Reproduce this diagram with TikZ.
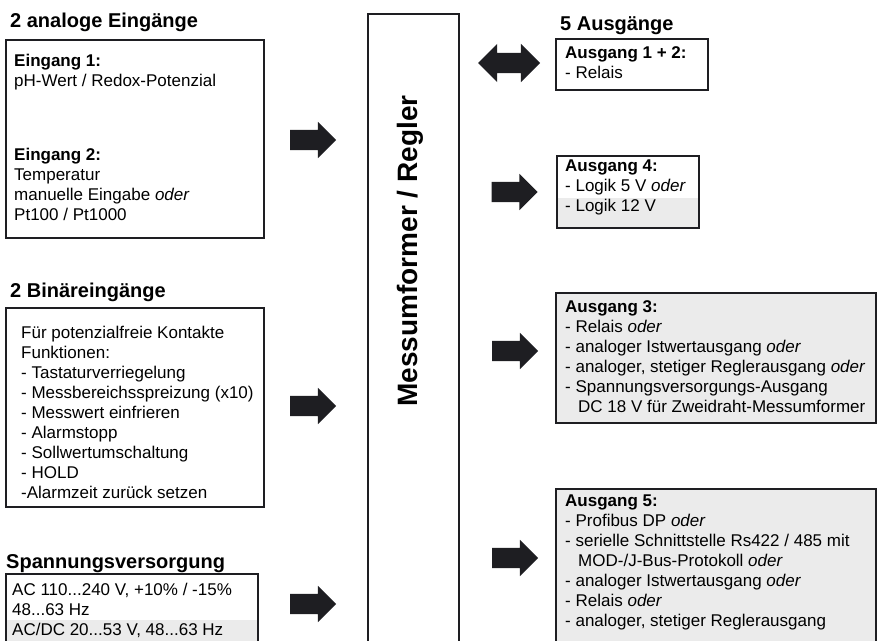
\documentclass[tikz,border=0pt]{standalone}
\usepackage{fontspec}
\setmainfont{Liberation Sans}
\usepackage{tikz}
\usetikzlibrary{positioning, shapes.arrows, backgrounds, calc}
\definecolor{bandgray}{gray}{0.92}
\definecolor{inkdark}{HTML}{1E1E22}

\begin{document}
\begin{tikzpicture}[x=1pt, y=-1pt,
  bx/.style={draw=inkdark, line width=2.2pt, anchor=north west, inner sep=0},
  hd/.style={anchor=base west, inner sep=0, font=\fontsize{20}{24}\selectfont\bfseries},
  tx/.style={anchor=north west, inner sep=0, align=left, font=\fontsize{17}{20}\selectfont},
  sarr/.style={single arrow, fill=inkdark, inner sep=0, text height=20pt, text depth=0pt,
               minimum height=46pt, minimum width=36pt, single arrow head extend=8pt},
  darr/.style={double arrow, fill=inkdark, inner sep=0, text height=20pt, text depth=0pt,
               minimum height=62pt, minimum width=38pt, double arrow head extend=9pt}]
  \useasboundingbox (0,0) rectangle (877,640);
  \clip (0,0) rectangle (877,640);
  % inputs
  \node[hd] (h1) at (10,27) {2 analoge Eingänge};
  \node[bx, minimum width=258pt, minimum height=198pt] (e1) at (5,39) {};
  \node[tx] (t11) at (14,54) {\textbf{Eingang 1:}\\pH-Wert / Redox-Potenzial};
  \node[tx] (t12) at (14,148) {\textbf{Eingang 2:}\\Temperatur\\manuelle Eingabe \textit{oder}\\Pt100 / Pt1000};
  \node[hd] (h2) at (10,297) {2 Binäreingänge};
  \node[bx, minimum width=258pt, minimum height=199pt] (e2) at (5,307) {};
  \node[tx] (t2) at (21,326) {Für potenzialfreie Kontakte\\Funktionen:\\- Tastaturverriegelung\\
    - Messbereichsspreizung (x10)\\- Messwert einfrieren\\- Alarmstopp\\- Sollwertumschaltung\\
    - HOLD\\-Alarmzeit zurück setzen};
  \node[hd] (h3) at (6,568) {Spannungsversorgung};
  \node[bx, minimum width=252pt, minimum height=90pt] (pw) at (5,573) {};
  \node[tx] (t3) at (12,583) {AC 110...240 V, +10\% / -15\%\\48...63 Hz\\AC/DC 20...53 V, 48...63 Hz};
  % centre
  \node[bx, minimum width=91pt, minimum height=700pt] (mr) at (367,13) {};
  \node[rotate=90, inner sep=0, font=\fontsize{28}{30}\selectfont\bfseries] (mrl) at (410,251)
    {Messumformer / Regler};
  % outputs
  \node[hd] (h4) at (560,30) {5 Ausgänge};
  \node[bx, minimum width=152pt, minimum height=51pt] (o1) at (555,38) {};
  \node[tx] (u1) at (565,46) {\textbf{Ausgang 1 + 2:}\\- Relais};
  \node[bx, minimum width=142pt, minimum height=72pt] (o4) at (556,155) {};
  \node[tx] (u4) at (565,160) {\textbf{Ausgang 4:}\\- Logik 5 V \textit{oder}\\- Logik 12 V};
  \node[bx, minimum width=320pt, minimum height=130pt] (o3) at (555,292) {};
  \node[tx] (u3) at (565,300) {\textbf{Ausgang 3:}\\- Relais \textit{oder}\\- analoger Istwertausgang \textit{oder}\\
    - analoger, stetiger Reglerausgang \textit{oder}\\- Spannungsversorgungs-Ausgang\\
    \hspace*{13pt}DC 18 V für Zweidraht-Messumformer};
  \node[bx, minimum width=320pt, minimum height=200pt] (o5) at (555,488) {};
  \node[tx] (u5) at (565,495) {\textbf{Ausgang 5:}\\- Profibus DP \textit{oder}\\
    - serielle Schnittstelle Rs422 / 485 mit\\\hspace*{13pt}MOD-/J-Bus-Protokoll \textit{oder}\\
    - analoger Istwertausgang \textit{oder}\\- Relais \textit{oder}\\- analoger, stetiger Reglerausgang};
  \begin{scope}[on background layer]
    \fill[bandgray] ($(pw.north west)+(0,47)$) rectangle (pw.south east);
    \fill[bandgray] ($(o4.north west)+(0,43)$) rectangle (o4.south east);
    \fill[bandgray] (o3.north west) rectangle (o3.south east);
    \fill[bandgray] (o5.north west) rectangle (o5.south east);
  \end{scope}
  % block arrows
  \foreach \n/\x/\y in {a1/308/140, a2/308/406, a3/308/604,
                        b4/509.5/192, b3/510/351, b5/510/558}
    \node[sarr] (\n) at (\x,\y) {};
  \node[darr] (b12) at (509,63) {};
\end{tikzpicture}
\end{document}
